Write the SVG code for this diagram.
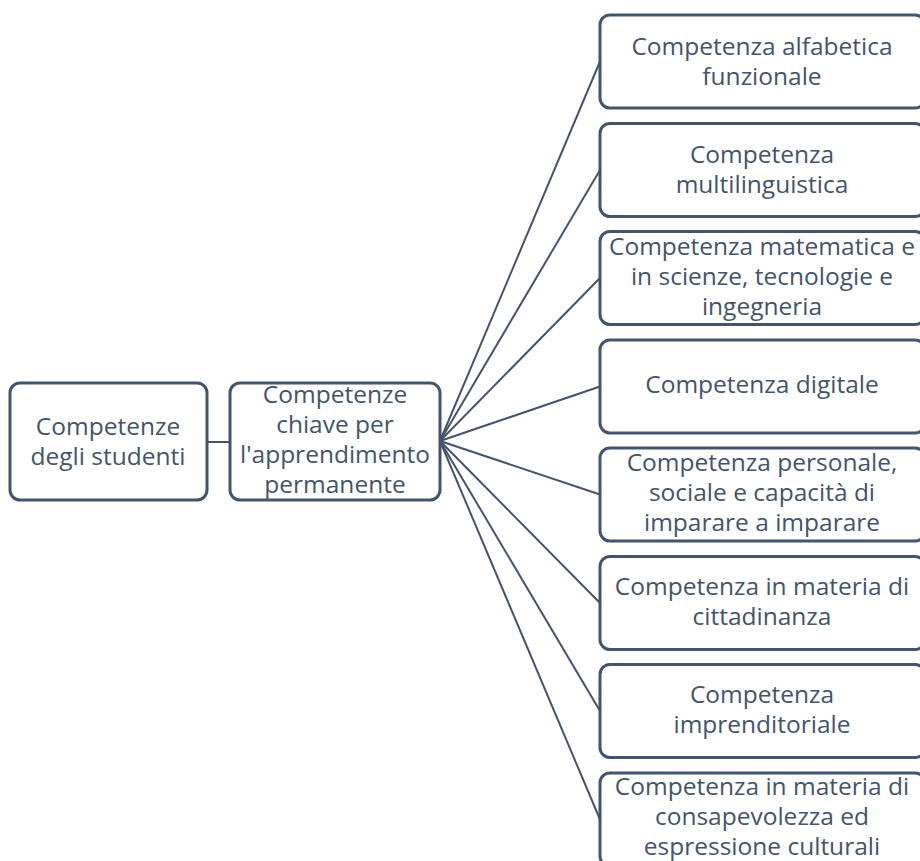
<svg xmlns="http://www.w3.org/2000/svg" width="920" height="861" viewBox="0 0 920 861">
<style>
.box{fill:#fff;stroke:#44546A;stroke-width:3}
.t{font-family:"Open Sans","Liberation Sans",sans-serif;font-size:24.5px;fill:#44546A;text-anchor:middle}
.c{stroke:#44546A;stroke-width:2;fill:none}
</style>
<rect width="920" height="861" fill="#fff"/>
<g id="connectors">
<line class="c" x1="207" y1="442" x2="230" y2="442"/>
<line class="c" x1="440" y1="441" x2="600" y2="61.5"/>
<line class="c" x1="440" y1="441" x2="600" y2="170"/>
<line class="c" x1="440" y1="441" x2="600" y2="278"/>
<line class="c" x1="440" y1="441" x2="600" y2="386.5"/>
<line class="c" x1="440" y1="441" x2="600" y2="494.5"/>
<line class="c" x1="440" y1="441" x2="600" y2="603"/>
<line class="c" x1="440" y1="441" x2="600" y2="711"/>
<line class="c" x1="440" y1="441" x2="600" y2="819.5"/>
</g>
<g id="n0"><rect class="box" x="10" y="383" width="197" height="117" rx="10"/>
<text class="t" x="108" y="435">Competenze</text><text class="t" x="108" y="465">degli studenti</text></g>
<g id="n1"><rect class="box" x="230" y="383" width="210" height="117" rx="10"/>
<text class="t" x="335" y="403">Competenze</text><text class="t" x="335" y="433">chiave per</text><text class="t" x="335" y="463">l'apprendimento</text><text class="t" x="335" y="493">permanente</text></g>
<g id="r1"><rect class="box" x="600" y="15" width="325" height="93" rx="10"/>
<text class="t" x="762" y="55">Competenza alfabetica</text><text class="t" x="762" y="85">funzionale</text></g>
<g id="r2"><rect class="box" x="600" y="123.5" width="325" height="93" rx="10"/>
<text class="t" x="762" y="163">Competenza</text><text class="t" x="762" y="193">multilinguistica</text></g>
<g id="r3"><rect class="box" x="600" y="231.5" width="325" height="93" rx="10"/>
<text class="t" x="762" y="255">Competenza matematica e</text><text class="t" x="762" y="285">in scienze, tecnologie e</text><text class="t" x="762" y="315">ingegneria</text></g>
<g id="r4"><rect class="box" x="600" y="340" width="325" height="93" rx="10"/>
<text class="t" x="762" y="393">Competenza digitale</text></g>
<g id="r5"><rect class="box" x="600" y="448" width="325" height="93" rx="10"/>
<text class="t" x="762" y="471">Competenza personale,</text><text class="t" x="762" y="501">sociale e capacità di</text><text class="t" x="762" y="531">imparare a imparare</text></g>
<g id="r6"><rect class="box" x="600" y="556.5" width="325" height="93" rx="10"/>
<text class="t" x="762" y="595">Competenza in materia di</text><text class="t" x="762" y="625">cittadinanza</text></g>
<g id="r7"><rect class="box" x="600" y="664.5" width="325" height="93" rx="10"/>
<text class="t" x="762" y="703">Competenza</text><text class="t" x="762" y="733">imprenditoriale</text></g>
<g id="r8"><rect class="box" x="600" y="773" width="325" height="93" rx="10"/>
<text class="t" x="762" y="795">Competenza in materia di</text><text class="t" x="762" y="825">consapevolezza ed</text><text class="t" x="762" y="855">espressione culturali</text></g>
</svg>
